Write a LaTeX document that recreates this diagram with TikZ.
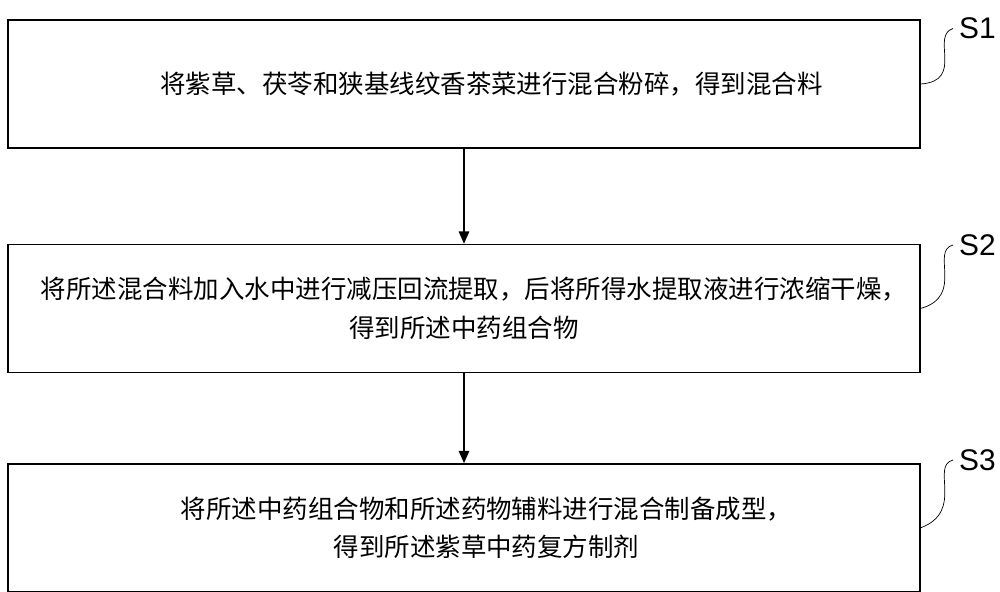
\documentclass[tikz,border=0pt]{standalone}
\usepackage{fontspec}
\setmainfont{Liberation Sans}
\newfontfamily\cjk{Noto Sans CJK SC}
\usetikzlibrary{positioning}
\usetikzlibrary{arrows.meta}
\tikzstyle{box} = [rectangle, draw, thick, minimum width=18.24cm, minimum height=2.56cm, align=center, font=\cjk\fontsize{14.5}{22}\selectfont]
\tikzstyle{line} = [draw, thick, -{Triangle[length=7pt,width=6pt]}]
\tikzstyle{tag} = [font=\fontsize{17}{18}\selectfont]
\tikzstyle{wave} = [draw, thin]

\begin{document}
\begin{tikzpicture}
    \useasboundingbox (0,0) rectangle (20,11.82);
    \node [box] (step1) at (9.28,10.14) {\hspace*{1.1cm}将紫草、茯苓和狭基线纹香茶菜进行混合粉碎，得到混合料};
    \node [box, below=1.9cm of step1] (step2) {\hspace*{0.4cm}将所述混合料加入水中进行减压回流提取，后将所得水提取液进行浓缩干燥，\\得到所述中药组合物};
    \node [box, below=1.8cm of step2] (step3) {\hspace*{0.9cm}将所述中药组合物和所述药物辅料进行混合制备成型，\\\hspace*{0.9cm}得到所述紫草中药复方制剂};

    \node [tag] (s1) at (19.55,11.25) {S1};
    \node [tag] (s2) at (19.55,6.92) {S2};
    \node [tag] (s3) at (19.55,2.62) {S3};

    \path [line] (step1) -- (step2);
    \path [line] (step2) -- (step3);

    % S-shaped leader curves
    \path [wave] (step1.east) .. controls (19.3,10.2) and (18.6,11.1) .. (s1.west);
    \path [wave] (step2.east) .. controls (19.3,5.9) and (18.6,6.8) .. (s2.west);
    \path [wave] (step3.east) .. controls (19.3,1.6) and (18.6,2.5) .. (s3.west);
  
  \end{tikzpicture}
\end{document}
